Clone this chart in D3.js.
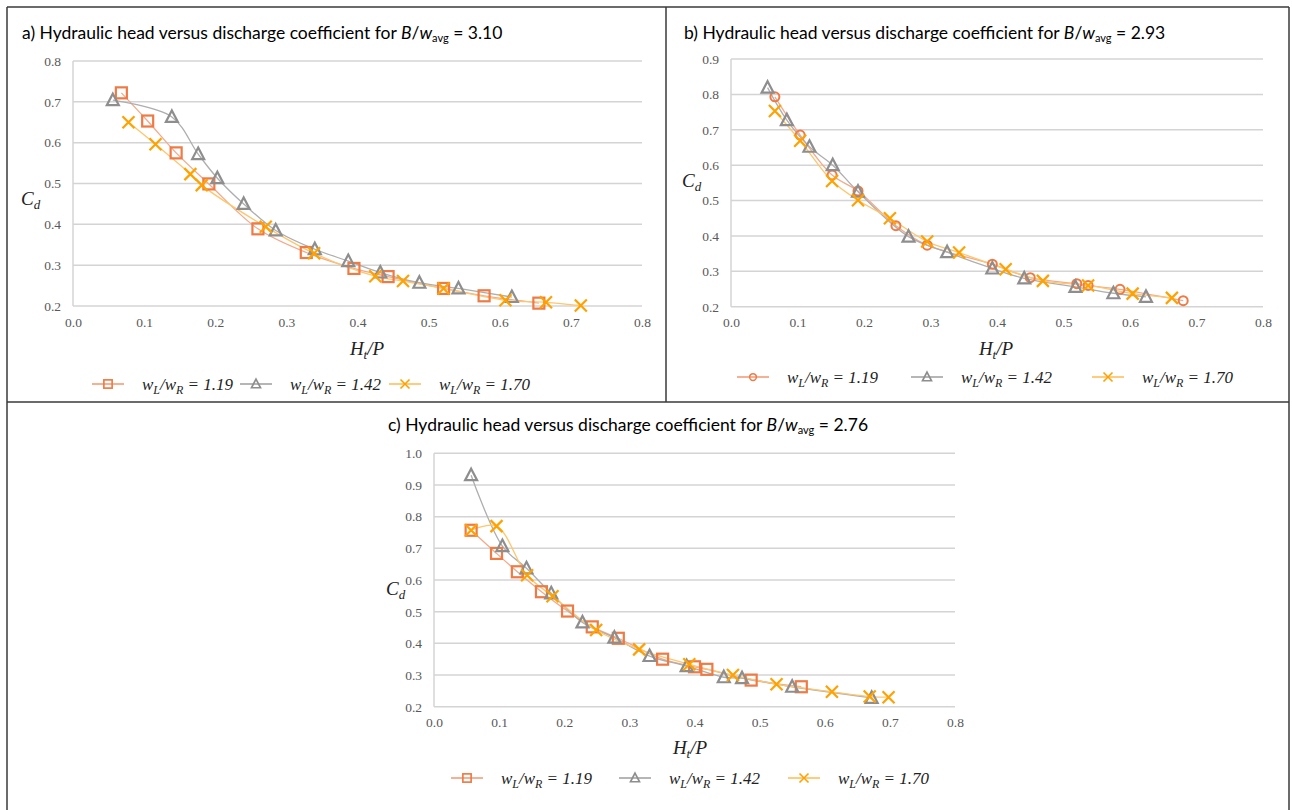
<!DOCTYPE html>
<html>
  <head>
    <title>Hydraulic head versus discharge coefficient</title>
    <script src="https://d3js.org/d3.v7.min.js"></script>
    <style>
      body {
        margin: 0;
        background: #fff;
      }
      .title {
        font-family: Lato, "Open Sans", sans-serif;
        font-size: 17.5px;
        fill: #000;
      }
      .serif-it {
        font-family: "Liberation Serif", serif;
        font-style: italic;
        fill: #222;
      }
    </style>
  </head>
  <body>
    <div id="chart"></div>
    <script>
      // Panel a) B/w_avg = 3.10   [Ht/P, Cd]
      const a119 = [[0.068, 0.722], [0.105, 0.653], [0.145, 0.575], [0.191, 0.499], [0.260, 0.389],
        [0.328, 0.331], [0.395, 0.292], [0.443, 0.272], [0.521, 0.243], [0.578, 0.225], [0.655, 0.207]];
      const a142 = [[0.056, 0.704], [0.139, 0.663], [0.176, 0.572], [0.203, 0.513], [0.240, 0.450],
        [0.285, 0.385], [0.340, 0.339], [0.387, 0.310], [0.432, 0.282], [0.487, 0.257], [0.542, 0.243],
        [0.617, 0.222]];
      const a170 = [[0.078, 0.650], [0.116, 0.596], [0.165, 0.523], [0.181, 0.496], [0.271, 0.394],
        [0.339, 0.329], [0.425, 0.273], [0.464, 0.261], [0.521, 0.243], [0.608, 0.214], [0.665, 0.209],
        [0.714, 0.201]];

      // Panel b) B/w_avg = 2.93
      const b119 = [[0.066, 0.793], [0.104, 0.685], [0.152, 0.572], [0.191, 0.527], [0.248, 0.429],
        [0.295, 0.374], [0.393, 0.320], [0.450, 0.282], [0.520, 0.265], [0.537, 0.260], [0.585, 0.249],
        [0.680, 0.217]];
      const b142 = [[0.055, 0.819], [0.084, 0.727], [0.118, 0.652], [0.153, 0.600], [0.191, 0.525],
        [0.267, 0.398], [0.325, 0.354], [0.393, 0.308], [0.441, 0.280], [0.518, 0.256], [0.575, 0.238],
        [0.624, 0.228]];
      const b170 = [[0.066, 0.753], [0.104, 0.669], [0.152, 0.555], [0.191, 0.501], [0.239, 0.450],
        [0.295, 0.384], [0.343, 0.353], [0.413, 0.306], [0.469, 0.273], [0.537, 0.260], [0.604, 0.237],
        [0.663, 0.225]];

      // Panel c) B/w_avg = 2.76
      const c119 = [[0.057, 0.757], [0.096, 0.684], [0.128, 0.626], [0.165, 0.563], [0.205, 0.502],
        [0.243, 0.452], [0.283, 0.416], [0.351, 0.350], [0.400, 0.326], [0.419, 0.318], [0.487, 0.284],
        [0.564, 0.263]];
      const c142 = [[0.057, 0.931], [0.105, 0.707], [0.142, 0.637], [0.180, 0.558], [0.228, 0.466],
        [0.277, 0.418], [0.331, 0.360], [0.388, 0.328], [0.445, 0.293], [0.473, 0.290], [0.550, 0.263],
        [0.672, 0.228]];
      const c170 = [[0.057, 0.757], [0.096, 0.770], [0.143, 0.615], [0.182, 0.549], [0.249, 0.442],
        [0.315, 0.381], [0.392, 0.334], [0.459, 0.300], [0.526, 0.271], [0.611, 0.247], [0.669, 0.232],
        [0.698, 0.230]];

      const ratioLabels = ["1.19", "1.42", "1.70"];
      const xTicks = [0, 0.1, 0.2, 0.3, 0.4, 0.5, 0.6, 0.7, 0.8];

      const W = 1292, H = 810;
      const svg = d3.select("#chart").append("svg").attr("width", W).attr("height", H);

      // frame lines
      const frame = svg.append("g").attr("stroke", "#3a3a3a").attr("stroke-width", 1.5);
      frame.append("line").attr("x1", 7).attr("y1", 7).attr("x2", 1289).attr("y2", 7);
      frame.append("line").attr("x1", 7).attr("y1", 7).attr("x2", 7).attr("y2", 810);
      frame.append("line").attr("x1", 1289).attr("y1", 7).attr("x2", 1289).attr("y2", 810);
      frame.append("line").attr("x1", 666).attr("y1", 7).attr("x2", 666).attr("y2", 402);
      frame.append("line").attr("x1", 7).attr("y1", 402).attr("x2", 1289).attr("y2", 402);

      const styles = [
        { line: "#F5A98A", stroke: "#EE7A45" },
        { line: "#AEAEAE", stroke: "#8E8E8E" },
        { line: "#FFC66E", stroke: "#FFA200" }
      ];

      function marker(g, type, color) {
        if (type === "square") {
          g.append("rect").attr("x", -5.5).attr("y", -5.5).attr("width", 11).attr("height", 11)
            .attr("fill", "none").attr("stroke", color).attr("stroke-width", 2.2);
        } else if (type === "circle") {
          g.append("circle").attr("r", 4.5).attr("fill", "none").attr("stroke", color).attr("stroke-width", 2);
        } else if (type === "triangle") {
          g.append("path").attr("d", "M0,-6.5L6,5L-6,5Z")
            .attr("fill", "none").attr("stroke", color).attr("stroke-width", 2.2);
        } else {
          g.append("path").attr("d", "M-6,-6L6,6M-6,6L6,-6")
            .attr("fill", "none").attr("stroke", color).attr("stroke-width", 2.2);
        }
      }

      function ratioText(t, value) {
        t.append("tspan").text("w");
        t.append("tspan").text("L").attr("font-size", "0.7em").attr("dy", 4);
        t.append("tspan").text("/w").attr("dy", -4);
        t.append("tspan").text("R").attr("font-size", "0.7em").attr("dy", 4);
        t.append("tspan").text(" = " + value).attr("dy", -4);
      }

      function styleTicks(a) {
        a.attr("font-family", null).attr("font-size", null);
        a.select(".domain").remove();
        a.selectAll(".tick text")
          .attr("font-family", "Liberation Serif")
          .attr("font-size", 13.5)
          .attr("fill", "#595959");
      }

      function panel(p) {
        const x = d3.scaleLinear().domain([0, 0.8]).range([p.x0, p.x1]);
        const y = d3.scaleLinear().domain([0.2, p.yMax]).range([p.y0, p.y1]);
        const g = svg.append("g");

        // title
        const t = g.append("text").attr("class", "title").attr("x", p.tx).attr("y", p.ty);
        t.append("tspan").text(p.letter + ") Hydraulic head versus discharge coefficient for ");
        t.append("tspan").text("B").attr("font-style", "italic");
        t.append("tspan").text("/");
        t.append("tspan").text("w").attr("font-style", "italic");
        t.append("tspan").text("avg").attr("font-size", "11px").attr("dy", 3);
        t.append("tspan").text(" = " + p.ratio).attr("dy", -3);

        // gridlines
        const yTicks = d3.range(0.2, p.yMax + 0.001, 0.1);
        g.append("g").selectAll("line").data(yTicks).join("line")
          .attr("x1", p.x0).attr("x2", p.x1)
          .attr("y1", (d) => y(d)).attr("y2", (d) => y(d))
          .attr("stroke", "#d4d4d4").attr("stroke-width", 1.5);
        g.append("line").attr("x1", p.x0).attr("x2", p.x0).attr("y1", p.y0).attr("y2", p.y1)
          .attr("stroke", "#d4d4d4").attr("stroke-width", 1.5);

        // axes
        g.append("g").attr("transform", `translate(0,${p.y0})`)
          .call(d3.axisBottom(x).tickValues(xTicks).tickFormat(d3.format(".1f")).tickSize(0).tickPadding(11))
          .call(styleTicks);
        g.append("g").attr("transform", `translate(${p.x0},0)`)
          .call(d3.axisLeft(y).tickValues(yTicks).tickFormat(d3.format(".1f")).tickSize(0).tickPadding(12))
          .call(styleTicks);

        // axis titles
        const xt = g.append("text").attr("class", "serif-it").attr("font-size", 19)
          .attr("x", p.xtx).attr("y", p.xty).attr("text-anchor", "middle");
        xt.append("tspan").text("H");
        xt.append("tspan").text("t").attr("font-size", 13).attr("dy", 4);
        xt.append("tspan").text("/P").attr("dy", -4);
        const yt = g.append("text").attr("class", "serif-it").attr("font-size", 19)
          .attr("x", p.ytx).attr("y", p.yty);
        yt.append("tspan").text("C");
        yt.append("tspan").text("d").attr("font-size", 13).attr("dy", 4);

        // series
        const line = d3.line().x((d) => x(d[0])).y((d) => y(d[1])).curve(d3.curveCatmullRom.alpha(0.5));
        const markers = [p.first, "triangle", "cross"];
        p.series.forEach((s, i) => {
          g.append("path").attr("d", line(s)).attr("fill", "none")
            .attr("stroke", styles[i].line).attr("stroke-width", 1.3);
        });
        p.series.forEach((s, i) => {
          g.append("g").selectAll("g").data(s).join("g")
            .attr("transform", (d) => `translate(${x(d[0])},${y(d[1])})`)
            .each(function () { marker(d3.select(this), markers[i], styles[i].stroke); });
        });

        // legend
        p.legend.forEach((lx, i) => {
          const lg = g.append("g").attr("transform", `translate(${lx},${p.ly})`);
          lg.append("line").attr("x1", 0).attr("x2", 32).attr("stroke", styles[i].line).attr("stroke-width", 1.8);
          const mg = lg.append("g").attr("transform", "translate(16,0) scale(0.75)");
          marker(mg, markers[i], styles[i].stroke);
          const lt = lg.append("text").attr("class", "serif-it").attr("font-size", 17)
            .attr("x", 50).attr("y", 6);
          ratioText(lt, ratioLabels[i]);
        });
      }

      panel({
        letter: "a", ratio: "3.10", tx: 22, ty: 39,
        x0: 73, x1: 642, y0: 306, y1: 61, yMax: 0.8,
        xtx: 367, xty: 355, ytx: 21, yty: 205,
        first: "square", series: [a119, a142, a170],
        legend: [92, 240, 389], ly: 384
      });
      panel({
        letter: "b", ratio: "2.93", tx: 684, ty: 39,
        x0: 731, x1: 1263, y0: 306.7, y1: 59, yMax: 0.9,
        xtx: 996, xty: 355, ytx: 682, yty: 187,
        first: "circle", series: [b119, b142, b170],
        legend: [737, 911, 1092], ly: 377
      });
      panel({
        letter: "c", ratio: "2.76", tx: 388, ty: 431,
        x0: 434, x1: 955, y0: 706.7, y1: 453.3, yMax: 1.0,
        xtx: 690, xty: 754, ytx: 386, yty: 595,
        first: "square", series: [c119, c142, c170],
        legend: [451, 619, 788], ly: 778
      });
    </script>
  </body>
</html>
